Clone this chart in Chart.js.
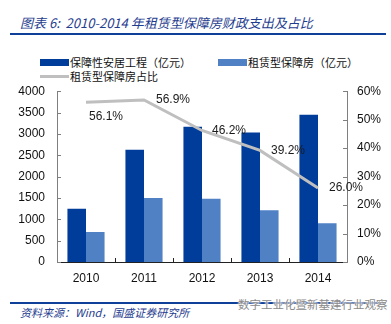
<!DOCTYPE html>
<html>
<head>
<meta charset="utf-8">
<script src="https://cdn.jsdelivr.net/npm/chart.js@4/dist/chart.umd.min.js"></script>
<style>
  html, body { margin: 0; padding: 0; background: #fff; }
  #wrap { position: relative; width: 391px; height: 324px; overflow: hidden; font-family: "Noto Sans CJK SC", "Liberation Sans", sans-serif; }
  .abs { position: absolute; white-space: nowrap; }
  #title { left: 20px; top: 14px; font-size: 13px; font-style: italic; color: #1F3D8F; line-height: 18px; }
  .rule { position: absolute; left: 10px; width: 376px; height: 2px; background: #0E3F99; }
  .leg { font-size: 11px; line-height: 14px; color: #111; }
  .sw { position: absolute; width: 29px; height: 7px; }
  #src { left: 20px; top: 304px; font-size: 11px; font-style: italic; color: #1F3D8F; line-height: 16px; }
  #wm { left: 238px; top: 296px; font-size: 11.5px; color: #8a8a8a; line-height: 16px;
        text-shadow: 0 0 2px #fff, 0 0 2px #fff, 0 0 2px #fff; }
  #chartBox { position: absolute; left: 0; top: 72px; width: 391px; height: 218px; }
</style>
</head>
<body>
<div id="wrap">
  <div id="title" class="abs">图表 6:&nbsp; 2010-2014 年租赁型保障房财政支出及占比</div>
  <div class="rule" style="top:33px"></div>

  <div class="sw" style="left:40px; top:59px; background:#003C99"></div>
  <div class="abs leg" style="left:70px; top:55px">保障性安居工程（亿元）</div>
  <div class="sw" style="left:218px; top:59px; background:#4F81C4"></div>
  <div class="abs leg" style="left:248px; top:55px">租赁型保障房（亿元）</div>
  <div class="sw" style="left:40px; top:75px; height:3px; background:#BFBFBF"></div>
  <div class="abs leg" style="left:70px; top:69px">租赁型保障房占比</div>

  <div id="chartBox"><canvas id="c" width="391" height="218"></canvas></div>

  <div class="rule" style="top:302px"></div>
  <div id="src" class="abs">资料来源：Wind，国盛证券研究所</div>
  <div id="wm" class="abs">数字工业化暨新基建行业观察</div>
</div>

<script>
// Years on the category axis
const years = ['2010', '2011', '2012', '2013', '2014'];
// Spending on affordable housing projects (100 million yuan)
const housingProjects = [1250, 2630, 3170, 3030, 3450];
// Spending on rental affordable housing (100 million yuan)
const rentalHousing = [700, 1500, 1480, 1210, 910];
// Share of rental housing in the total (%)
const rentalShare = [56.1, 56.9, 46.2, 39.2, 26.0];
// Label offsets for the share labels, in pixels
const shareLabelOffsets = [[20, 14], [29, 0], [27, 0], [28, 0], [28, 0]];

const tickFont = { family: 'Liberation Sans', size: 12 };

// Small inward tick marks on the axes
const innerTicks = {
  id: 'innerTicks',
  afterDatasetsDraw(chart) {
    const ctx = chart.ctx;
    const { left, right, bottom } = chart.chartArea;
    const yL = chart.scales.y, yR = chart.scales.y1, x = chart.scales.x;
    ctx.save();
    ctx.lineWidth = 1;
    ctx.strokeStyle = '#7f7f7f';
    yL.ticks.forEach(t => {
      const py = Math.round(yL.getPixelForValue(t.value)) + 0.5;
      ctx.beginPath(); ctx.moveTo(left, py); ctx.lineTo(left + 4, py); ctx.stroke();
    });
    yR.ticks.forEach(t => {
      const py = Math.round(yR.getPixelForValue(t.value)) + 0.5;
      ctx.beginPath(); ctx.moveTo(right, py); ctx.lineTo(right - 4, py); ctx.stroke();
    });
    ctx.strokeStyle = '#222';
    for (let i = 1; i < years.length; i++) {
      const px = Math.round((x.getPixelForValue(i - 1) + x.getPixelForValue(i)) / 2) + 0.5;
      ctx.beginPath(); ctx.moveTo(px, bottom); ctx.lineTo(px, bottom - 4); ctx.stroke();
    }
    ctx.restore();
  }
};

// Value labels beside the share line
const shareLabels = {
  id: 'shareLabels',
  afterDatasetsDraw(chart) {
    const meta = chart.getDatasetMeta(2);
    const ctx = chart.ctx;
    ctx.save();
    ctx.font = '12px "Liberation Sans"';
    ctx.fillStyle = '#1a1a1a';
    ctx.textAlign = 'center';
    ctx.textBaseline = 'middle';
    meta.data.forEach((pt, i) => {
      const [dx, dy] = shareLabelOffsets[i];
      ctx.fillText(rentalShare[i].toFixed(1) + '%', pt.x + dx, pt.y + dy);
    });
    ctx.restore();
  }
};

new Chart(document.getElementById('c'), {
  data: {
    labels: years,
    datasets: [
      { type: 'bar', label: '保障性安居工程（亿元）', data: housingProjects, backgroundColor: '#003C99',
        yAxisID: 'y', barPercentage: 1, categoryPercentage: 0.64, order: 2 },
      { type: 'bar', label: '租赁型保障房（亿元）', data: rentalHousing, backgroundColor: '#4F81C4',
        yAxisID: 'y', barPercentage: 1, categoryPercentage: 0.64, order: 2 },
      { type: 'line', label: '租赁型保障房占比', data: rentalShare, borderColor: '#BFBFBF',
        borderWidth: 3, pointRadius: 0, tension: 0, yAxisID: 'y1', order: 1 }
    ]
  },
  options: {
    responsive: false,
    animation: false,
    devicePixelRatio: 1,
    layout: { padding: { top: 10, left: 0, right: 0, bottom: 0 } },
    plugins: { legend: { display: false }, tooltip: { enabled: false } },
    scales: {
      x: {
        grid: { display: false, drawTicks: false },
        border: { display: true, color: '#222', width: 1 },
        ticks: { color: '#111', font: tickFont, padding: 9 },
        afterFit(s) { s.height = 28; }
      },
      y: {
        position: 'left', min: 0, max: 4000,
        grid: { display: false, drawTicks: false },
        border: { display: true, color: '#7f7f7f', width: 1 },
        ticks: { stepSize: 500, color: '#111', font: tickFont, padding: 12, callback: v => String(v) },
        afterFit(s) { s.width = 57; }
      },
      y1: {
        position: 'right', min: 0, max: 60,
        grid: { display: false, drawTicks: false },
        border: { display: true, color: '#7f7f7f', width: 1 },
        ticks: { stepSize: 10, color: '#111', font: tickFont, padding: 10, callback: v => v + '%' },
        afterFit(s) { s.width = 44; }
      }
    }
  },
  plugins: [innerTicks, shareLabels]
});
</script>
</body>
</html>
